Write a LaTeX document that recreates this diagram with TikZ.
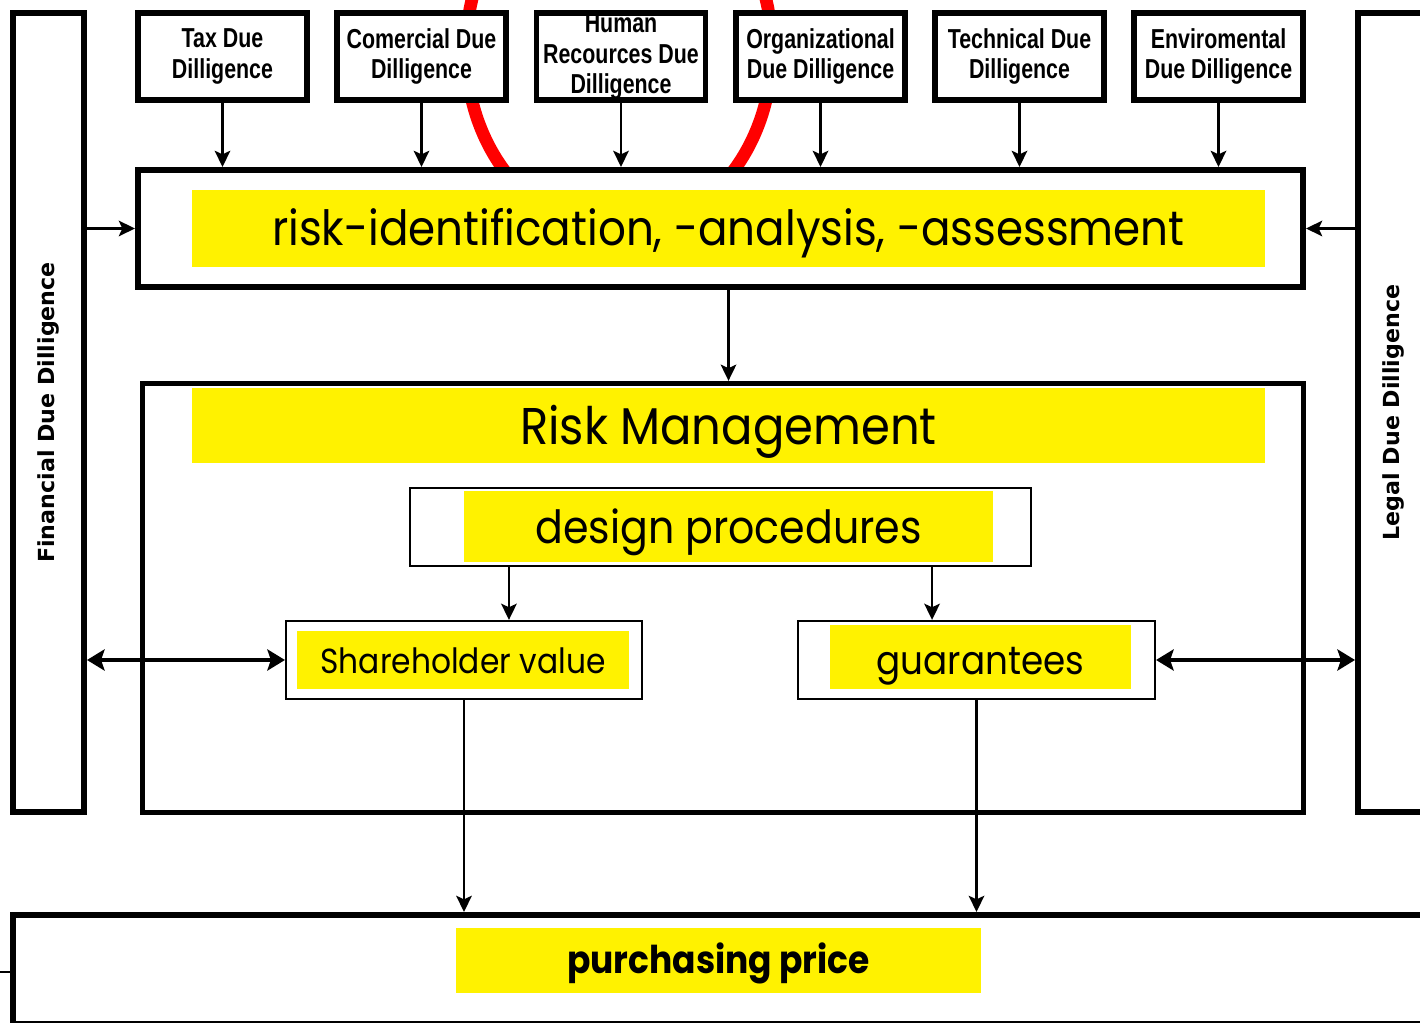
\documentclass[tikz,border=0pt]{standalone}
\usepackage{fontspec}
\setmainfont[FakeStretch=0.9]{Poppins}
\newfontfamily\narrowfont[FakeStretch=0.78]{Liberation Sans}
\newfontfamily\sidefont{DejaVu Sans}
\usetikzlibrary{positioning, arrows.meta}

\tikzset{
  ddbox/.style={draw, fill=white, line width=1.7pt, minimum width=1.69cm,
    minimum height=0.87cm, inner sep=0pt, align=center,
    font=\narrowfont\bfseries\fontsize{7.8}{8.8}\selectfont},
  bigbox/.style={draw, fill=white, line width=1.7pt, inner sep=0pt},
  smallbox/.style={draw, fill=white, line width=0.6pt, inner sep=0pt},
  band/.style={fill=yellow, inner sep=0pt, text height=8.5pt, text depth=1pt},
  sidetext/.style={rotate=90, font=\sidefont\bfseries\fontsize{6.3}{7}\selectfont},
  arr/.style={line width=0.8pt, -{Stealth[length=4.6pt,width=4.4pt,inset=1pt]}},
  dblarr/.style={line width=1.2pt,
    {Stealth[length=5pt,width=6pt,inset=1pt]}-{Stealth[length=5pt,width=6pt,inset=1pt]}}
}

\begin{document}
\begin{tikzpicture}
  \useasboundingbox (0,0) rectangle (14.20,-10.23);
  \clip (0,0) rectangle (14.20,-10.23);

  % Kreis im Hintergrund
  \draw[red, line width=3.6pt] (6.19,-0.50) ellipse (1.53cm and 1.82cm);

  % Due Diligence oben
  \node[ddbox] (tax)   at (2.225,-0.565) {Tax Due\\Dilligence};
  \node[ddbox] (com)   at (4.215,-0.565) {Comercial Due\\Dilligence};
  \node[ddbox] (hum)   at (6.210,-0.565) {Human\\Recources Due\\Dilligence};
  \node[ddbox] (org)   at (8.205,-0.565) {Organizational\\Due Dilligence};
  \node[ddbox] (tech)  at (10.195,-0.565) {Technical Due\\Dilligence};
  \node[ddbox] (env)   at (12.185,-0.565) {Enviromental\\Due Dilligence};

  % Seitenbalken
  \node[bigbox, minimum width=0.71cm, minimum height=7.99cm] (fin) at (0.485,-4.125) {};
  \node[sidetext] (fintext) at (fin.center) {Financial Due Dilligence};
  \node[bigbox, minimum width=0.71cm, minimum height=7.99cm] (legal) at (13.935,-4.125) {};
  \node[sidetext] (legaltext) at (legal.center) {Legal Due Dilligence};

  % Risiko
  \node[bigbox, minimum width=11.65cm, minimum height=1.17cm] (risk) at (7.205,-2.285) {};
  \node[band, text height=10.8pt, minimum width=10.73cm, minimum height=0.77cm,
    font=\fontsize{13.8}{16}\selectfont] (riskband) at (7.285,-2.285)
    {risk-identification, -analysis, -assessment};

  % Risk Management
  \node[bigbox, line width=1.5pt, minimum width=11.61cm, minimum height=4.29cm] (rm) at (7.23,-5.98) {};
  \node[band, text height=12pt, minimum width=10.73cm, minimum height=0.75cm,
    font=\fontsize{14.7}{17}\selectfont] (rmband) at (7.285,-4.255) {Risk Management};

  \node[smallbox, minimum width=6.21cm, minimum height=0.78cm] (design) at (7.205,-5.27) {};
  \node[band, text height=10.8pt, minimum width=5.29cm, minimum height=0.71cm,
    font=\fontsize{13}{16}\selectfont] (designband) at (7.285,-5.265) {design procedures};

  \node[smallbox, minimum width=3.56cm, minimum height=0.78cm] (share) at (4.64,-6.60) {};
  \node[band, minimum width=3.32cm, minimum height=0.58cm,
    font=\fontsize{9.9}{12}\selectfont] (shareband) at (4.63,-6.60) {Shareholder value};

  \node[smallbox, minimum width=3.57cm, minimum height=0.78cm] (guar) at (9.765,-6.60) {};
  \node[band, text height=10.8pt, minimum width=3.01cm, minimum height=0.64cm,
    font=\fontsize{11.3}{14}\selectfont] (guarband) at (9.805,-6.57) {guarantees};

  % Kaufpreis
  \node[bigbox, minimum width=14.37cm, minimum height=1.09cm] (price) at (7.315,-9.695) {};
  \node[band, minimum width=5.25cm, minimum height=0.65cm,
    font=\bfseries\fontsize{10.9}{13}\selectfont] (priceband) at (7.185,-9.605) {purchasing price};
  \draw[line width=0.5pt] (0,-9.72) -- (price.west |- 0,-9.72);

  % Pfeile
  \draw[arr] (tax.south)  -- (tax.south |- risk.north);
  \draw[arr] (com.south)  -- (com.south |- risk.north);
  \draw[arr] (hum.south)  -- (hum.south |- risk.north);
  \draw[arr] (org.south)  -- (org.south |- risk.north);
  \draw[arr] (tech.south) -- (tech.south |- risk.north);
  \draw[arr] (env.south)  -- (env.south |- risk.north);

  \draw[arr] (risk.west -| fin.east) -- (risk.west);
  \draw[arr] (risk.east -| legal.west) -- (risk.east);
  \draw[arr] (riskband.center |- risk.south) -- (riskband.center |- rm.north);

  \draw[arr] ([xshift=1cm]design.south west) -- ([xshift=1cm]design.south west |- share.north);
  \draw[arr] ([xshift=-1cm]design.south east) -- ([xshift=-1cm]design.south east |- guar.north);

  \draw[dblarr] (share.west -| fin.east) -- (share.west);
  \draw[dblarr] (guar.east) -- (guar.east -| legal.west);

  \draw[arr] (share.south) -- (share.south |- price.north);
  \draw[arr] (guar.south) -- (guar.south |- price.north);

\end{tikzpicture}
\end{document}
